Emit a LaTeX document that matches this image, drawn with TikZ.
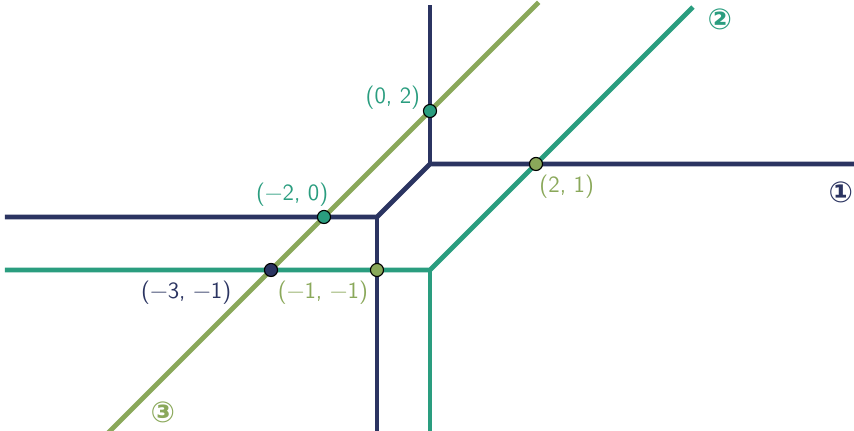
\documentclass[tikz,border=0pt]{standalone}
\usepackage{fontspec}
\newfontfamily\circfont{DejaVu Sans}
\definecolor{cone}{HTML}{2B3461}
\definecolor{ctwo}{HTML}{2A9D7F}
\definecolor{cthree}{HTML}{8AA85A}
\tikzset{
  curve/.style={line width=2.5pt, line join=miter},
  pt/.style={circle, draw=black, line width=0.6pt, minimum size=7pt, inner sep=0pt},
  lab/.style={font=\sffamily\fontsize{12.5}{14}\selectfont, inner sep=0pt},
  cnum/.style={font=\circfont\fontsize{15.5}{17}\selectfont\bfseries, inner sep=0pt}
}
\begin{document}
\begin{tikzpicture}
\useasboundingbox (-8.113,-4.038) rectangle (8.0,4.094);
% curve 1
\coordinate (a1) at (-8.02,0);
\coordinate (v1) at (-1,0);
\coordinate (v2) at (0,1);
\coordinate (b1) at (-1,-4.1);
\coordinate (c1) at (8.1,1);
\coordinate (d1) at (0,4.0);
\draw[curve, cone] (a1) -- (v1) -- (v2) -- (c1);
\draw[curve, cone] (v1) -- (b1);
\draw[curve, cone] (v2) -- (d1);
% curve 2
\coordinate (a2) at (-8.02,-1);
\coordinate (w1) at (0,-1);
\coordinate (b2) at (0,-4.1);
\coordinate (c2) at (4.96,3.96);
\draw[curve, ctwo] (a2) -- (w1) -- (c2);
\draw[curve, ctwo] (w1) -- (b2);
% curve 3
\coordinate (a3) at (-6.1,-4.1);
\coordinate (c3) at (2.05,4.05);
\draw[curve, cthree] (a3) -- (c3);
% points
\node[pt, fill=ctwo] (p02) at (0,2) {};
\node[pt, fill=cthree] (p21) at (2,1) {};
\node[pt, fill=ctwo] (pm20) at (-2,0) {};
\node[pt, fill=cone] (pm3m1) at (-3,-1) {};
\node[pt, fill=cthree] (pm1m1) at (-1,-1) {};
% labels
\node[lab, text=ctwo] (l02) at (-0.70,2.26) {(0, 2)};
\node[lab, text=cthree] (l21) at (2.58,0.58) {(2, 1)};
\node[lab, text=ctwo] (lm20) at (-2.60,0.42) {(−2, 0)};
\node[lab, text=cone] (lm3m1) at (-4.60,-1.42) {(−3, −1)};
\node[lab, text=cthree] (lm1m1) at (-2.02,-1.42) {(−1, −1)};
\node[cnum, text=cone] (n1) at (7.75,0.47) {①};
\node[cnum, text=ctwo] (n2) at (5.47,3.72) {②};
\node[cnum, text=cthree] (n3) at (-5.04,-3.68) {③};
\end{tikzpicture}
\end{document}
